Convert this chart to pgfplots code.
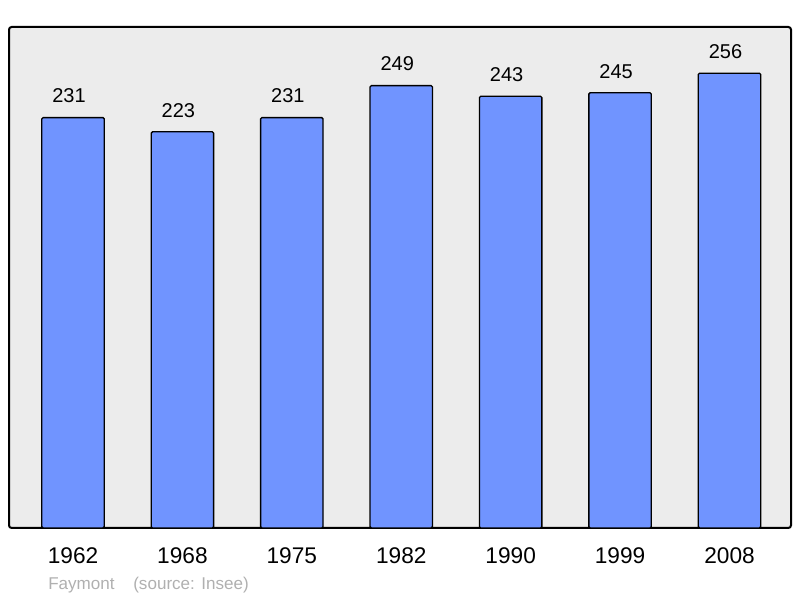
\documentclass[border=0pt]{standalone}
\usepackage{pgfplots}
\pgfplotsset{compat=1.18}
\usepackage{fontspec}
\setmainfont{Liberation Sans}
\definecolor{barblue}{RGB}{112,148,255}
\definecolor{bggray}{RGB}{236,236,236}
\definecolor{srcgray}{RGB}{176,176,176}
\begin{document}
\begin{tikzpicture}
\useasboundingbox (0pt,0pt) rectangle (600pt,448.5pt);
\begin{axis}[
  at={(6.75pt,52.5pt)}, anchor=south west,
  scale only axis,
  width=586.5pt, height=375.75pt,
  xmin=-0.585, xmax=6.562,
  ymin=0, ymax=282,
  axis background/.style={fill=bggray},
  axis line style={line width=1.5pt, rounded corners=2pt},
  ytick=\empty,
  xtick={0,1,2,3,4,5,6},
  xticklabels={1962,1968,1975,1982,1990,1999,2008},
  major tick length=0pt,
  xticklabel style={font=\fontsize{17}{19}\selectfont, anchor=base, yshift=-27pt, inner sep=0pt},
  ybar, bar width=0.571,
  nodes near coords,
  /pgf/number format/assume math mode=true,
  every node near coord/.append style={font=\fontsize{15}{17}\selectfont, anchor=base, inner sep=0pt, yshift=11pt, xshift=-3pt, black},
  clip=false,
]
\addplot[fill=barblue, draw=black, line width=1pt, rounded corners=1pt] coordinates {
(0,231) (1,223) (2,231) (3,249) (4,243) (5,245) (6,256)};
\end{axis}
\node[anchor=base west, inner sep=0pt, text=srcgray, font=\fontsize{12.8}{15}\selectfont] at (36pt,6pt) {Faymont\hspace{14pt}(source: Insee)};
\end{tikzpicture}
\end{document}
